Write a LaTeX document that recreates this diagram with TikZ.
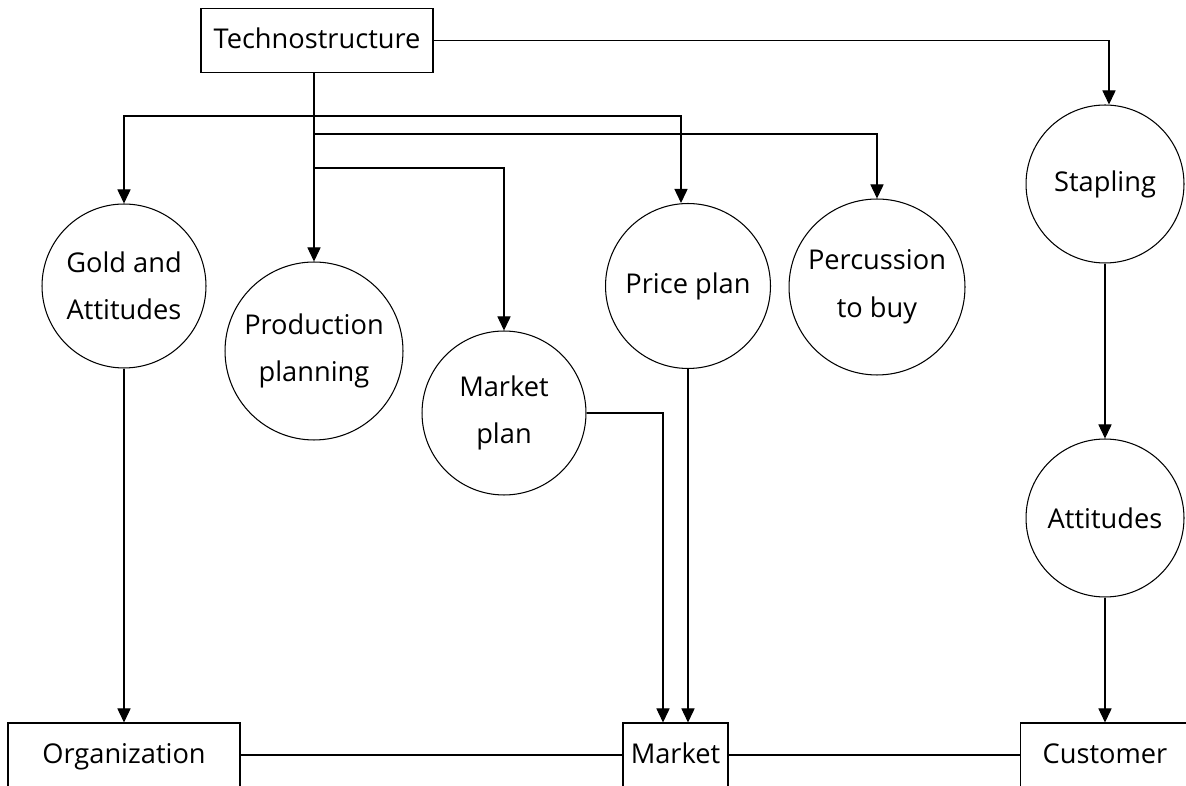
\documentclass[tikz,border=0pt]{standalone}
\usepackage{fontspec}
\setmainfont{Open Sans}
\usetikzlibrary{arrows.meta}

\tikzset{plannode/.style={circle, draw, line width=0.6pt, align=center, font=\fontsize{15.5}{27}\selectfont}}
\tikzset{unitnode/.style={rectangle, draw, line width=0.6pt, minimum height=1.28cm, text height=1.1em, text depth=0.16em, font=\fontsize{15.5}{18}\selectfont}}
\tikzset{arr/.style={line width=0.6pt, -{Triangle[length=8pt, width=7.5pt]}}}

\begin{document}
\begin{tikzpicture}[x=0.02cm, y=-0.02cm]
		\useasboundingbox (0,0) rectangle (1186,786);
		\clip (0,0) rectangle (1186,786);

		%units
		\node[unitnode, minimum width=4.64cm] (tech) at (317,40.5) {Technostructure};
		\node[unitnode, minimum width=4.64cm] (org) at (124,755) {Organization};
		\node[unitnode, minimum width=2.1cm] (market) at (675.5,755) {Market};
		\node[unitnode, minimum width=3.4cm] (cust) at (1105,755) {Customer};

		%plans
		\node[plannode, minimum size=3.28cm] (gold) at (124,286) {Gold and \\ Attitudes};
		\node[plannode, minimum size=3.56cm] (prod) at (314,351) {Production \\ planning};
		\node[plannode, minimum size=3.28cm] (mplan) at (504,413) {Market \\ plan};
		\node[plannode, minimum size=3.3cm] (price) at (688,286) {Price plan};
		\node[plannode, minimum size=3.52cm] (perc) at (877,287) {Percussion \\ to buy};
		\node[plannode, minimum size=3.16cm] (stap) at (1105,184) {Stapling};
		\node[plannode, minimum size=3.16cm] (att) at (1105,518) {Attitudes};

		%branches
		\coordinate (j1) at (314,116);
		\coordinate (j2) at (314,134);
		\coordinate (j3) at (314,168);

		\draw[arr] (tech.south -| prod.north) -- (prod.north);
		\draw[arr] (j1) -| (gold.north);
		\draw[arr] (j1) -| ([xshift=-0.14cm]price.north);
		\draw[arr] (j2) -| (perc.north);
		\draw[arr] (j3) -| (mplan.north);
		\draw[arr] (tech.east) -| ([xshift=0.08cm]stap.north);

		%flows to the bottom
		\draw[arr] (gold.south) -- (gold.south |- org.north);
		\draw[arr] (mplan.east) -| ([xshift=-0.25cm]market.north);
		\draw[arr] (price.south) -- (price.south |- market.north);
		\draw[arr] (stap.south) -- (att.north);
		\draw[arr] (att.south) -- (att.south |- cust.north);

		\draw[line width=0.6pt] (org.east) -- (market.west);
		\draw[line width=0.6pt] (market.east) -- (cust.west);
	\end{tikzpicture}
\end{document}
